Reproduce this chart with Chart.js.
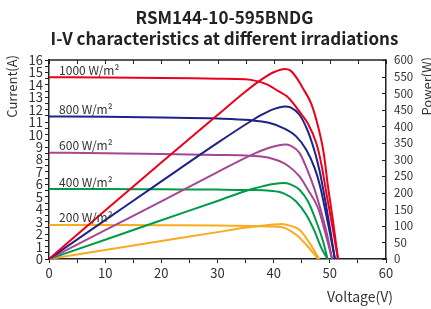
<!DOCTYPE html>
<html>
<head>
<meta charset="utf-8">
<script src="https://cdn.jsdelivr.net/npm/chart.js@4.4.0/dist/chart.umd.min.js"></script>
<style>
html, body { margin: 0; padding: 0; background: #fff; }
</style>
</head>
<body>
<canvas id="ivChart" width="431" height="309"></canvas>
<script>
// irradiation levels (W/m2)
const irradiations = ['1000', '800', '600', '400', '200'];

// I-V curves: voltage (V) and current (A)
const iv1000V = [0, 10, 20, 30, 35, 37, 39, 41, 42.3, 43.7, 45, 46.1, 47.6, 48.5, 49.5, 50.5, 51.45];
const iv1000I = [14.62, 14.6, 14.56, 14.5, 14.45, 14.3, 14.0, 13.45, 13.1, 12.4, 11.6, 10.9, 9.3, 7.6, 5.0, 2.5, 0];
const iv800V = [0, 10, 20, 30, 35.7, 39.3, 41.7, 44, 45.8, 47.3, 48.2, 49.2, 50.1, 50.9];
const iv800I = [11.46, 11.43, 11.38, 11.3, 11.17, 10.93, 10.53, 9.86, 8.79, 7.31, 5.97, 3.9, 1.9, 0];
const iv600V = [0, 10, 20, 30, 35.7, 39.3, 42.3, 44.6, 46.1, 47.9, 49.2, 50.4];
const iv600I = [8.55, 8.5, 8.44, 8.37, 8.3, 8.12, 7.58, 6.64, 5.57, 4.1, 2.1, 0];
const iv400V = [0, 10, 20, 30, 35.7, 39.3, 41.7, 44, 45.8, 47.3, 48.5, 49.6];
const iv400I = [5.63, 5.62, 5.6, 5.58, 5.55, 5.49, 5.3, 4.63, 3.56, 2.22, 0.88, 0];
const iv200V = [0, 10, 20, 30, 35.7, 39.3, 41.7, 44, 45.8, 47.3, 47.9];
const iv200I = [2.74, 2.73, 2.72, 2.7, 2.66, 2.62, 2.54, 1.95, 1.15, 0.35, 0];

// P-V curves: voltage (V) and power (W)
const pv1000V = [0, 10, 20, 30, 35, 38, 40, 42, 43, 44.3, 45.2, 46.7, 47.9, 48.9, 49.7, 50.6, 51.45];
const pv1000P = [0, 146, 291, 434, 505, 543, 563, 573, 568, 541, 515, 468, 400, 320, 215, 110, 0];
const pv800V = [0, 10, 20, 30, 35.7, 38, 40, 42, 43, 44.6, 46.1, 47.3, 48.2, 49.2, 50.1, 50.9];
const pv800P = [0, 117, 234, 350, 413, 436, 452, 460, 457, 435, 385, 324, 264, 175, 85, 0];
const pv600V = [0, 10, 20, 30, 35.7, 38, 40, 42, 43, 44.6, 46.1, 47.3, 48.5, 49.5, 50.4];
const pv600P = [0, 87, 174, 262, 311, 328, 339, 345, 342, 320, 264, 209, 140, 75, 0];
const pv400V = [0, 10, 20, 30, 35.7, 38, 40, 41.7, 43, 44.6, 46.1, 47.6, 48.8, 49.6];
const pv400P = [0, 58, 117, 175, 209, 219, 226, 229, 225, 209, 174, 113, 53, 0];
const pv200V = [0, 10, 20, 30, 34.8, 38, 40, 41.4, 43, 44.6, 46.4, 48.1];
const pv200P = [0, 27, 54, 81, 94, 100, 104, 105.6, 100, 88, 48, 0];

const curveColors = ['rgb(235,0,28)', 'rgb(30,35,135)', 'rgb(165,70,145)', 'rgb(0,155,72)', 'rgb(250,170,30)'];
const fontFamily = '"Noto Sans CJK SC", "Noto Sans", sans-serif';
const axisColor = '#222';
const textColor = '#333';

function toPoints(xs, ys) {
    return xs.map((x, i) => ({ x: x, y: ys[i] }));
}

const ivSets = [[iv1000V, iv1000I], [iv800V, iv800I], [iv600V, iv600I], [iv400V, iv400I], [iv200V, iv200I]];
const pvSets = [[pv1000V, pv1000P], [pv800V, pv800P], [pv600V, pv600P], [pv400V, pv400P], [pv200V, pv200P]];

const datasets = [];
irradiations.forEach((irr, i) => {
    datasets.push({
        label: irr + ' W/m² I-V',
        data: toPoints(ivSets[i][0], ivSets[i][1]),
        borderColor: curveColors[i],
        yAxisID: 'y'
    });
    datasets.push({
        label: irr + ' W/m² P-V',
        data: toPoints(pvSets[i][0], pvSets[i][1]),
        borderColor: curveColors[i],
        yAxisID: 'y2'
    });
});

// extra drawing: top frame, inward ticks on the power axis, axis titles, curve labels
const decorations = {
    id: 'decorations',
    afterDraw(chart) {
        const ctx = chart.ctx;
        const area = chart.chartArea;
        const xs = chart.scales.x;
        const ys = chart.scales.y;
        const ps = chart.scales.y2;
        ctx.save();
        ctx.strokeStyle = axisColor;
        ctx.lineWidth = 1.5;
        ctx.beginPath();
        ctx.moveTo(area.left, area.top);
        ctx.lineTo(area.right, area.top);
        ctx.stroke();
        ctx.lineWidth = 1;
        ctx.beginPath();
        xs.ticks.forEach(t => {
            const x = Math.round(xs.getPixelForValue(t.value)) + 0.5;
            ctx.moveTo(x, area.top);
            ctx.lineTo(x, area.top + 4);
        });
        ps.ticks.forEach(t => {
            const y = Math.round(ps.getPixelForValue(t.value)) + 0.5;
            ctx.moveTo(area.right - 4, y);
            ctx.lineTo(area.right, y);
        });
        ctx.stroke();

        ctx.fillStyle = textColor;
        ctx.font = '13px ' + fontFamily;
        ctx.textBaseline = 'middle';
        ctx.textAlign = 'right';
        ctx.save();
        ctx.translate(12, 55);
        ctx.rotate(-Math.PI / 2);
        ctx.fillText('Current(A)', 0, 0);
        ctx.restore();
        ctx.save();
        ctx.translate(427, 57);
        ctx.rotate(-Math.PI / 2);
        ctx.fillText('Power(W)', 0, 0);
        ctx.restore();
        ctx.font = '14px ' + fontFamily;
        ctx.fillText('Voltage(V)', 393, 297);

        ctx.font = '12px ' + fontFamily;
        ctx.textAlign = 'left';
        ctx.textBaseline = 'bottom';
        irradiations.forEach((irr, i) => {
            const x = xs.getPixelForValue(1.8);
            const y = ys.getPixelForValue(ivSets[i][1][0]) - 1;
            ctx.fillText(irr + ' W/m²', x, y);
        });
        ctx.restore();
    }
};

const ctx = document.getElementById('ivChart').getContext('2d');
const chart = new Chart(ctx, {
    type: 'line',
    data: { datasets: datasets },
    options: {
        responsive: false,
        animation: false,
        layout: { padding: { left: 18, right: 0, top: 0, bottom: 0 } },
        elements: {
            point: { radius: 0 },
            line: { borderWidth: 2, cubicInterpolationMode: 'monotone', fill: false }
        },
        plugins: {
            legend: { display: false },
            tooltip: { enabled: false },
            title: {
                display: true,
                text: ['RSM144-10-595BNDG', 'I-V characteristics at different irradiations'],
                color: '#222',
                font: { family: fontFamily, size: 17, weight: 'bold', lineHeight: 1.25 },
                padding: { top: 7, bottom: 10.5 }
            }
        },
        scales: {
            x: {
                type: 'linear',
                min: 0,
                max: 60,
                grid: { drawOnChartArea: false, tickLength: 4, tickColor: axisColor },
                border: { color: axisColor, width: 1.5 },
                ticks: {
                    stepSize: 5,
                    autoSkip: false,
                    maxRotation: 0,
                    padding: 2,
                    color: textColor,
                    font: { family: fontFamily, size: 13 },
                    callback: v => (v % 10 === 0 ? v : '')
                },
                afterFit: s => { s.height = 50; }
            },
            y: {
                position: 'left',
                min: 0,
                max: 16,
                grid: { drawOnChartArea: false, tickLength: 4, tickColor: axisColor },
                border: { color: axisColor, width: 1.5 },
                ticks: {
                    stepSize: 0.5,
                    autoSkip: false,
                    padding: 2,
                    color: textColor,
                    font: { family: fontFamily, size: 13 },
                    callback: v => (Number.isInteger(v) ? v : '')
                },
                afterFit: s => { s.width = 31; }
            },
            y2: {
                position: 'right',
                min: 0,
                max: 600,
                grid: { drawOnChartArea: false, drawTicks: false },
                border: { color: axisColor, width: 1.5 },
                ticks: {
                    stepSize: 50,
                    autoSkip: false,
                    padding: 8,
                    color: textColor,
                    font: { family: fontFamily, size: 11.5 }
                },
                afterFit: s => { s.width = 45; }
            }
        }
    },
    plugins: [decorations]
});
</script>
</body>
</html>
